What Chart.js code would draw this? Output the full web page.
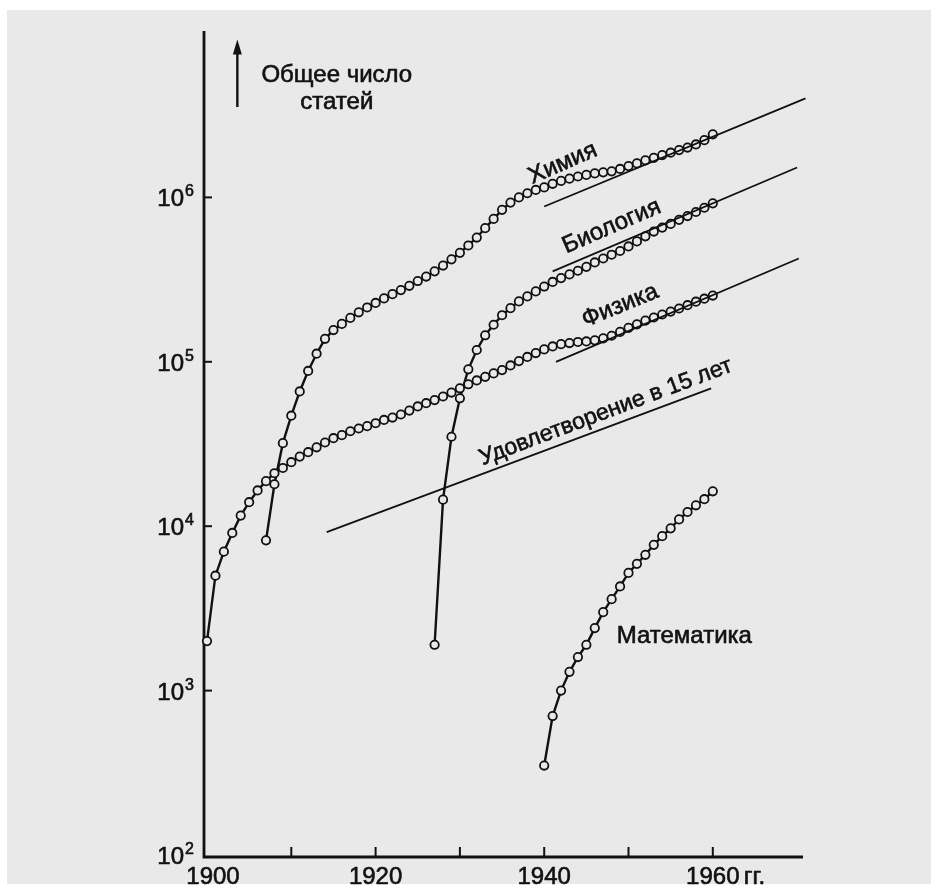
<!DOCTYPE html>
<html lang="ru">
<head>
    <meta charset="UTF-8">
    <title>Общее число статей</title>
    <script src="https://cdn.jsdelivr.net/npm/chart.js"></script>
    <style>
        body {
            margin: 0;
            padding: 0;
            background-color: #ffffff;
        }
        canvas {
            display: block;
        }
    </style>
</head>
<body>
    <canvas id="myChart" width="931" height="885"></canvas>

    <script>
        // Физика
        const physicsYears = [1900, 1901, 1902, 1903, 1904, 1905, 1906, 1907, 1908, 1909,
            1910, 1911, 1912, 1913, 1914, 1915, 1916, 1917, 1918, 1919,
            1920, 1921, 1922, 1923, 1924, 1925, 1926, 1927, 1928, 1929,
            1930, 1931, 1932, 1933, 1934, 1935, 1936, 1937, 1938, 1939,
            1940, 1941, 1942, 1943, 1944, 1945, 1946, 1947, 1948, 1949,
            1950, 1951, 1952, 1953, 1954, 1955, 1956, 1957, 1958, 1959, 1960];
        const physicsValues = [2000, 5000, 7000, 9100, 11600, 14000, 16500, 18800, 21000, 22600,
            24500, 26500, 28200, 30200, 32300, 34300, 35800, 37800, 39300, 40600,
            42300, 44300, 45800, 47800, 50500, 53500, 56000, 58500, 61500, 65000,
            69000, 73000, 77000, 81000, 85000, 89000, 95000, 101000, 107000, 113000,
            119000, 124000, 128000, 130000, 132000, 133000, 135000, 139000, 144000, 152000,
            161000, 169000, 178000, 186000, 194000, 202000, 211000, 221000, 232000, 242000, 253000];

        // Химия
        const chemYears = [1907, 1908, 1909,
            1910, 1911, 1912, 1913, 1914, 1915, 1916, 1917, 1918, 1919,
            1920, 1921, 1922, 1923, 1924, 1925, 1926, 1927, 1928, 1929,
            1930, 1931, 1932, 1933, 1934, 1935, 1936, 1937, 1938, 1939,
            1940, 1941, 1942, 1943, 1944, 1945, 1946, 1947, 1948, 1949,
            1950, 1951, 1952, 1953, 1954, 1955, 1956, 1957, 1958, 1959, 1960];
        const chemValues = [8200, 18000, 32000,
            47000, 66000, 88000, 112000, 138000, 156000, 170000, 185000, 200000, 214000,
            228000, 243000, 258000, 273000, 290000, 310000, 330000, 355000, 385000, 420000,
            460000, 510000, 570000, 650000, 740000, 840000, 930000, 1000000, 1060000, 1110000,
            1150000, 1210000, 1260000, 1300000, 1340000, 1370000, 1400000, 1420000, 1440000, 1490000,
            1550000, 1610000, 1680000, 1740000, 1810000, 1870000, 1940000, 2010000, 2100000, 2230000, 2420000];

        // Биология
        const bioYears = [1927, 1928, 1929,
            1930, 1931, 1932, 1933, 1934, 1935, 1936, 1937, 1938, 1939,
            1940, 1941, 1942, 1943, 1944, 1945, 1946, 1947, 1948, 1949,
            1950, 1951, 1952, 1953, 1954, 1955, 1956, 1957, 1958, 1959, 1960];
        const bioValues = [1900, 14500, 35000,
            60000, 90000, 118000, 145000, 168000, 192000, 212000, 233000, 250000, 268000,
            287000, 306000, 323000, 340000, 358000, 378000, 402000, 425000, 448000, 472000,
            503000, 540000, 580000, 620000, 655000, 690000, 730000, 770000, 815000, 865000, 920000];

        // Математика
        const mathYears = [1940, 1941, 1942, 1943, 1944, 1945, 1946, 1947, 1948, 1949,
            1950, 1951, 1952, 1953, 1954, 1955, 1956, 1957, 1958, 1959, 1960];
        const mathValues = [350, 700, 1000, 1300, 1600, 1900, 2400, 3000, 3600, 4300,
            5200, 5900, 6700, 7700, 8700, 9700, 11000, 12200, 13400, 14600, 16300];

        // прямые (экспоненты)
        const chemFit = [[1940, 880000], [1971, 4000000]];
        const bioFit = [[1941, 355000], [1970, 1520000]];
        const physicsFit = [[1941.4, 100000], [1970.2, 425000]];
        const doubling15 = [[1914.2, 9200], [1959.8, 69000]];

        // оси
        const xTicks = [1900, 1910, 1920, 1930, 1940, 1950, 1960];
        const xLabels = {1900: '1900', 1920: '1920', 1940: '1940', 1960: '1960'};
        const yPowers = [2, 3, 4, 5, 6];

        const BG = '#e9e9e9';
        const INK = '#111111';
        const FONT = '"Liberation Sans", Arial, sans-serif';

        function pts(years, values) {
            return years.map((y, i) => ({x: y, y: values[i]}));
        }
        function pairs(list) {
            return list.map(p => ({x: p[0], y: p[1]}));
        }

        function curve(label, data) {
            return {
                label: label,
                data: data,
                borderColor: INK,
                borderWidth: 2.4,
                pointRadius: 4.2,
                pointBorderWidth: 1.8,
                pointBorderColor: INK,
                pointBackgroundColor: BG,
                tension: 0,
                fill: false,
                clip: false
            };
        }
        function fitLine(label, data) {
            return {
                label: label,
                data: data,
                borderColor: INK,
                borderWidth: 1.8,
                pointRadius: 0,
                tension: 0,
                fill: false,
                clip: false
            };
        }

        // чуть жирнее, как в скане
        function inkText(ctx, text, x, y) {
            ctx.lineWidth = 0.6;
            ctx.strokeText(text, x, y);
            ctx.fillText(text, x, y);
        }

        function rotatedText(ctx, text, x, y, deg, size) {
            ctx.save();
            ctx.translate(x, y);
            ctx.rotate(-deg * Math.PI / 180);
            ctx.font = size + 'px ' + FONT;
            ctx.textAlign = 'center';
            ctx.textBaseline = 'middle';
            inkText(ctx, text, 0, 0);
            ctx.restore();
        }

        const paper = {
            id: 'paper',
            beforeDraw(chart) {
                const ctx = chart.ctx;
                ctx.save();
                ctx.fillStyle = '#ffffff';
                ctx.fillRect(0, 0, chart.width, chart.height);
                ctx.fillStyle = BG;
                ctx.fillRect(7, 10, chart.width - 7, chart.height - 11);
                ctx.restore();
            },
            beforeDatasetsDraw(chart) {
                const ctx = chart.ctx;
                const xs = chart.scales.x, ys = chart.scales.y;
                const left = xs.getPixelForValue(1900) - 3;
                const bottom = ys.getPixelForValue(100) + 2;
                const top = ys.getPixelForValue(1e7) - 2;
                const right = xs.right;
                ctx.save();
                ctx.strokeStyle = INK;
                ctx.fillStyle = INK;
                ctx.lineWidth = 2.8;
                ctx.beginPath();
                ctx.moveTo(left, top);
                ctx.lineTo(left, bottom);
                ctx.lineTo(right, bottom);
                ctx.stroke();

                yPowers.forEach(p => {
                    const py = ys.getPixelForValue(Math.pow(10, p));
                    if (p > 2) {
                        ctx.lineWidth = 2;
                        ctx.beginPath();
                        ctx.moveTo(left, py);
                        ctx.lineTo(left + 8, py);
                        ctx.stroke();
                    }
                    ctx.font = '24px ' + FONT;
                    ctx.textAlign = 'right';
                    ctx.textBaseline = 'alphabetic';
                    inkText(ctx, '10', left - 20, py + 9);
                    ctx.font = '16px ' + FONT;
                    ctx.textAlign = 'left';
                    inkText(ctx, String(p), left - 19, py - 1);
                });

                xTicks.forEach(t => {
                    const px = xs.getPixelForValue(t);
                    if (t > 1900) {
                        ctx.lineWidth = 2;
                        ctx.beginPath();
                        ctx.moveTo(px, bottom);
                        ctx.lineTo(px, bottom - 10);
                        ctx.stroke();
                    }
                    if (xLabels[t]) {
                        ctx.font = '24px ' + FONT;
                        ctx.textAlign = 'center';
                        ctx.textBaseline = 'alphabetic';
                        inkText(ctx, xLabels[t], t === 1900 ? px + 6 : px, bottom + 27);
                        if (t === 1960) {
                            ctx.textAlign = 'left';
                            inkText(ctx, 'гг.', px + 31, bottom + 27);
                        }
                    }
                });
                ctx.restore();
            },
            afterDatasetsDraw(chart) {
                const ctx = chart.ctx;
                const xs = chart.scales.x, ys = chart.scales.y;
                const X = v => xs.getPixelForValue(v);
                const Y = v => ys.getPixelForValue(v);
                ctx.save();
                ctx.fillStyle = INK;
                ctx.strokeStyle = INK;

                // стрелка и подпись оси
                const ax = X(1903.6);
                ctx.lineWidth = 2.4;
                ctx.beginPath();
                ctx.moveTo(ax, Y(Math.pow(10, 6.55)));
                ctx.lineTo(ax, Y(Math.pow(10, 6.88)));
                ctx.stroke();
                const tip = Y(Math.pow(10, 6.96));
                ctx.beginPath();
                ctx.moveTo(ax, tip);
                ctx.lineTo(ax - 4.5, tip + 15);
                ctx.lineTo(ax + 4.5, tip + 15);
                ctx.closePath();
                ctx.fill();

                ctx.font = '24px ' + FONT;
                ctx.textAlign = 'center';
                ctx.textBaseline = 'middle';
                inkText(ctx, 'Общее число', X(1915.4), Y(Math.pow(10, 6.744)));
                inkText(ctx, 'статей', X(1915.4), Y(Math.pow(10, 6.579)));

                rotatedText(ctx, 'Химия', X(1942.2), Y(1610000), 23.5, 24);
                rotatedText(ctx, 'Биология', X(1948.0), Y(665000), 23.4, 24);
                rotatedText(ctx, 'Физика', X(1949.0), Y(219000), 22.4, 24);
                rotatedText(ctx, 'Удовлетворение в 15 лет', X(1947.3), Y(49500), 20.6, 23);

                ctx.font = '24px ' + FONT;
                ctx.textAlign = 'left';
                ctx.textBaseline = 'middle';
                inkText(ctx, 'Математика', X(1948.6), Y(2130));
                ctx.restore();
            }
        };

        const ctx = document.getElementById('myChart').getContext('2d');
        const myChart = new Chart(ctx, {
            type: 'line',
            data: {
                datasets: [
                    fitLine('Химия (прямая)', pairs(chemFit)),
                    fitLine('Биология (прямая)', pairs(bioFit)),
                    fitLine('Физика (прямая)', pairs(physicsFit)),
                    fitLine('Удвоение в 15 лет', pairs(doubling15)),
                    curve('Физика', pts(physicsYears, physicsValues)),
                    curve('Химия', pts(chemYears, chemValues)),
                    curve('Биология', pts(bioYears, bioValues)),
                    curve('Математика', pts(mathYears, mathValues))
                ]
            },
            options: {
                responsive: false,
                animation: false,
                layout: {
                    padding: {left: 207, right: 128, top: 33, bottom: 30}
                },
                plugins: {
                    legend: {display: false},
                    tooltip: {enabled: false}
                },
                scales: {
                    x: {
                        type: 'linear',
                        min: 1900,
                        max: 1970.7,
                        display: false
                    },
                    y: {
                        type: 'logarithmic',
                        min: 100,
                        max: 10000000,
                        display: false
                    }
                }
            },
            plugins: [paper]
        });
    </script>
</body>
</html>
